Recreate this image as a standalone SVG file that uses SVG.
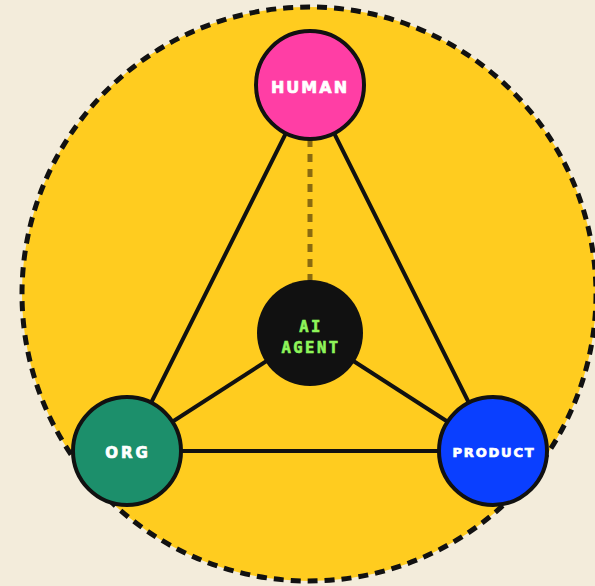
<svg xmlns="http://www.w3.org/2000/svg" width="595" height="586" viewBox="0 0 595 586">
<style>
.node{stroke:#111;stroke-width:4}
.edge{stroke:#111;stroke-width:4;fill:none}
.lbl{font-family:"DejaVu Sans",sans-serif;font-weight:bold;fill:#fff;stroke:#fff;stroke-width:0.7;text-anchor:middle}
.ai{font-family:"DejaVu Sans Mono",monospace;font-weight:bold;fill:#8EF55A;stroke:#8EF55A;stroke-width:0.6;text-anchor:middle;font-size:15.5px;letter-spacing:2.5px}
</style>
<rect width="595" height="586" fill="#F3ECDB"/>
<circle cx="309" cy="294" r="287" fill="#FFCC1F" stroke="#111" stroke-width="5" stroke-dasharray="10 7"/>
<g id="connectors">
<line class="edge" x1="310" y1="85" x2="127" y2="451"/>
<line class="edge" x1="310" y1="85" x2="493" y2="451"/>
<line class="edge" x1="127" y1="451" x2="493" y2="451"/>
<line class="edge" x1="310" y1="333" x2="127" y2="451"/>
<line class="edge" x1="310" y1="333" x2="493" y2="451"/>
<line x1="310" y1="139" x2="310" y2="281" stroke="#8A6A10" stroke-width="5" stroke-dasharray="8 7"/>
</g>
<g id="human">
<circle class="node" cx="310" cy="85" r="54" fill="#FF3EA5"/>
<text class="lbl" x="310" y="93" font-size="16" letter-spacing="2">HUMAN</text>
</g>
<g id="ai-agent">
<circle cx="310" cy="333" r="53" fill="#111"/>
<text class="ai" x="311" y="332">AI</text>
<text class="ai" x="311" y="353">AGENT</text>
</g>
<g id="org">
<circle class="node" cx="127" cy="451" r="54" fill="#1C8F6B"/>
<text class="lbl" x="128" y="458" font-size="15" letter-spacing="3">ORG</text>
</g>
<g id="product">
<circle class="node" cx="493" cy="451" r="54" fill="#0A3FFF"/>
<text class="lbl" x="494" y="457" font-size="13" letter-spacing="1.8">PRODUCT</text>
</g>
</svg>
